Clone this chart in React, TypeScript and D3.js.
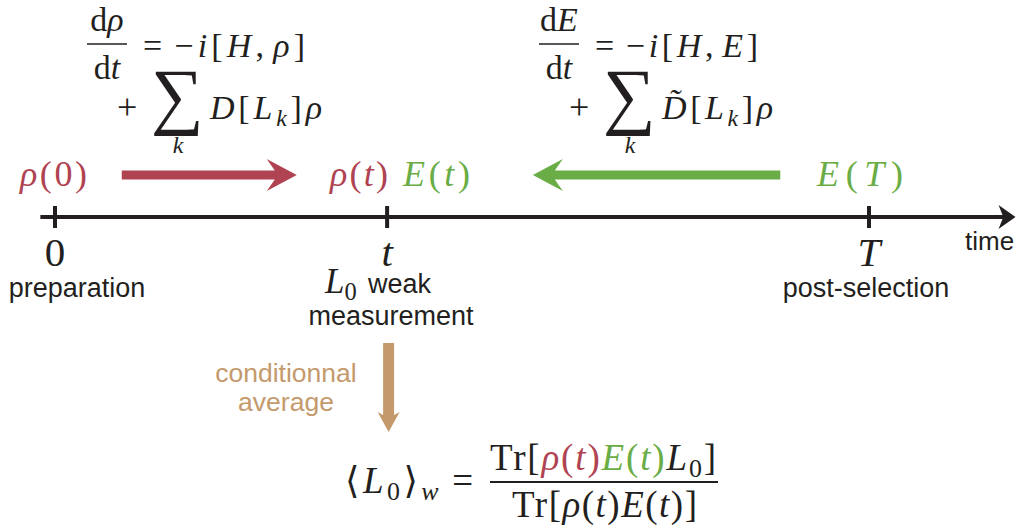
import React from "react";
import * as d3 from "d3";

const W = 1022;
const H = 529;

// timeline data
const tickLabels = ["0", "t", "T"];
const tickTimes = [0, 0.408, 1];
const tickItalic = [false, true, true];
const captions = ["preparation", "", "post-selection"];
const axisDomain = [-0.018, 1.18];
// evolution arrows (start time, end time)
const forwardArrow = [0.082, 0.297];
const backwardArrow = [0.891, 0.587];

const INK = "#231f20";
const RED = "#b04352";
const GREEN = "#6aad46";
const BROWN = "#c49a6c";
const SERIF = "'Liberation Serif', 'DejaVu Serif', serif";
const SANS = "'Liberation Sans', Arial, sans-serif";

type Seg = { t: string; i?: boolean; c?: string; sub?: boolean; dx?: number };

function MathText(props: {
  x: number;
  y: number;
  segs: Seg[];
  size: number;
  anchor?: string;
  len?: number;
}) {
  const { x, y, segs, size, anchor, len } = props;
  let inSub = false;
  const out = segs.map((s, k) => {
    let dy = 0;
    if (s.sub && !inSub) dy = size * 0.2;
    if (!s.sub && inSub) dy = -size * 0.2;
    inSub = !!s.sub;
    return (
      <tspan
        key={k}
        dy={dy || undefined}
        dx={s.dx}
        fontStyle={s.i ? "italic" : "normal"}
        fill={s.c || INK}
        fontSize={s.sub ? size * 0.7 : size}
      >
        {s.t}
      </tspan>
    );
  });
  return (
    <text
      x={x}
      y={y}
      fontFamily={SERIF}
      fontSize={size}
      textAnchor={anchor || "start"}
      textLength={len}
      lengthAdjust={len ? "spacing" : undefined}
    >
      {out}
    </text>
  );
}

function arrowPath(x0: number, x1: number, y: number, shaft: number, headLen: number, headHalf: number, notch: number) {
  const dir = Math.sign(x1 - x0);
  const p = d3.path();
  const back = x1 - dir * headLen;
  const join = back + dir * notch;
  p.moveTo(x0, y - shaft / 2);
  p.lineTo(join, y - shaft / 2);
  p.lineTo(back, y - headHalf);
  p.lineTo(x1, y);
  p.lineTo(back, y + headHalf);
  p.lineTo(join, y + shaft / 2);
  p.lineTo(x0, y + shaft / 2);
  p.closePath();
  return p.toString();
}

function vArrowPath(x: number, y0: number, y1: number, shaft: number, headLen: number, headHalf: number, notch: number) {
  const p = d3.path();
  const back = y1 - headLen;
  const join = back + notch;
  p.moveTo(x - shaft / 2, y0);
  p.lineTo(x - shaft / 2, join);
  p.lineTo(x - headHalf, back);
  p.lineTo(x, y1);
  p.lineTo(x + headHalf, back);
  p.lineTo(x + shaft / 2, join);
  p.lineTo(x + shaft / 2, y0);
  p.closePath();
  return p.toString();
}

export default function App() {
  const x = d3.scaleLinear().domain([0, 1]).range([55, 869]);
  const axisY = 217;
  const arrowY = 175;

  const [a0, a1] = axisDomain.map(x);

  const eq = (dx: number, num: Seg[], rhs: Seg[], rhsLen: number, tail: Seg[], tailLen: number, key: string) => (
    <g key={key} transform={`translate(${dx},0)`}>
      <MathText x={107} y={31} size={34} anchor="middle" segs={num} />
      <line x1={87} x2={127} y1={44} y2={44} stroke={INK} strokeWidth={1.7} />
      <MathText x={107} y={79} size={34} anchor="middle" segs={[{ t: "d" }, { t: "t", i: true }]} />
      <MathText x={143} y={57} size={34} segs={rhs} len={rhsLen} />
      <text x={117} y={119} fontFamily={SERIF} fontSize={36} fill={INK}>+</text>
      <text x={151} y={120} fontFamily={SERIF} fontSize={74} fill={INK}>∑</text>
      <MathText x={178} y={153} size={24} anchor="middle" segs={[{ t: "k", i: true }]} />
      <MathText x={210} y={119} size={34} segs={tail} len={tailLen} />
    </g>
  );

  return (
    <svg width={W} height={H} style={{ position: "absolute", left: 0, top: 0, background: "#fff" }}>
      {eq(
        0,
        [{ t: "d" }, { t: "ρ", i: true }],
        [{ t: "=" }, { t: "−", dx: 8 }, { t: "i", i: true }, { t: "[" }, { t: "H", i: true }, { t: "," }, { t: "ρ", i: true, dx: 5 }, { t: "]" }],
        162,
        [{ t: "D", i: true }, { t: "[" }, { t: "L", i: true }, { t: "k", i: true, sub: true }, { t: "]" }, { t: "ρ", i: true }],
        112,
        "l"
      )}
      {eq(
        452,
        [{ t: "d" }, { t: "E", i: true }],
        [{ t: "=" }, { t: "−", dx: 8 }, { t: "i", i: true }, { t: "[" }, { t: "H", i: true }, { t: "," }, { t: "E", i: true, dx: 5 }, { t: "]" }],
        163,
        [{ t: "D\u0303", i: true }, { t: "[" }, { t: "L", i: true }, { t: "k", i: true, sub: true }, { t: "]" }, { t: "ρ", i: true }],
        111,
        "r"
      )}

      {/* state labels */}
      <MathText x={20} y={186} size={36} len={67} segs={[{ t: "ρ", i: true, c: RED }, { t: "(0)", c: RED }]} />
      <MathText x={330} y={186} size={36} len={58} segs={[{ t: "ρ", i: true, c: RED }, { t: "(", c: RED }, { t: "t", i: true, c: RED }, { t: ")", c: RED }]} />
      <MathText x={403} y={186} size={36} len={67} segs={[{ t: "E", i: true, c: GREEN }, { t: "(", c: GREEN }, { t: "t", i: true, c: GREEN }, { t: ")", c: GREEN }]} />
      <MathText x={817} y={186} size={36} len={86} segs={[{ t: "E", i: true, c: GREEN }, { t: "(", c: GREEN }, { t: "T", i: true, c: GREEN }, { t: ")", c: GREEN }]} />

      {/* evolution arrows */}
      <path d={arrowPath(x(forwardArrow[0]), x(forwardArrow[1]), arrowY, 9, 30, 16, 8)} fill={RED} />
      <path d={arrowPath(x(backwardArrow[0]), x(backwardArrow[1]), arrowY, 9, 30, 16, 8)} fill={GREEN} />

      {/* time axis */}
      <path d={arrowPath(a0, a1, axisY, 4, 17, 12, 4)} fill={INK} />
      {tickTimes.map((tv, k) => (
        <g key={k}>
          <rect x={x(tv) - 2} y={axisY - 11} width={4} height={22} fill={INK} />
          <text
            x={x(tv)}
            y={266}
            fontFamily={SERIF}
            fontSize={41}
            fontStyle={tickItalic[k] ? "italic" : "normal"}
            textAnchor="middle"
            fill={INK}
          >
            {tickLabels[k]}
          </text>
          {captions[k] && (
            <text x={x(tv) + (k === 0 ? 22 : -3)} y={297} fontFamily={SANS} fontSize={27} textAnchor="middle" fill={INK}>
              {captions[k]}
            </text>
          )}
        </g>
      ))}
      <text x={965} y={250} fontFamily={SANS} fontSize={26} fill={INK}>time</text>

      {/* weak measurement caption */}
      <MathText x={325} y={293} size={35} segs={[{ t: "L", i: true }, { t: "0", sub: true }]} />
      <text x={368} y={293} fontFamily={SANS} fontSize={27} fill={INK}>weak</text>
      <text x={391} y={325} fontFamily={SANS} fontSize={27} textAnchor="middle" fill={INK}>measurement</text>

      {/* conditional average */}
      <path d={vArrowPath(x(tickTimes[1]) + 1.5, 343, 432, 11, 20, 11, 3)} fill={BROWN} />
      <text x={286} y={382} fontFamily={SANS} fontSize={26.5} textAnchor="middle" fill={BROWN}>conditionnal</text>
      <text x={286} y={411} fontFamily={SANS} fontSize={26.5} textAnchor="middle" fill={BROWN}>average</text>

      {/* weak value */}
      <MathText
        x={345}
        y={493}
        size={37}
        len={128}
        segs={[{ t: "⟨" }, { t: "L", i: true }, { t: "0", sub: true }, { t: "⟩" }, { t: "w", i: true, sub: true }, { t: "=", dx: 10 }]}
      />
      <MathText
        x={490}
        y={470}
        size={37}
        len={226}
        segs={[
          { t: "Tr[" },
          { t: "ρ", i: true, c: RED },
          { t: "(", c: RED },
          { t: "t", i: true, c: RED },
          { t: ")", c: RED },
          { t: "E", i: true, c: GREEN },
          { t: "(", c: GREEN },
          { t: "t", i: true, c: GREEN },
          { t: ")", c: GREEN },
          { t: "L", i: true },
          { t: "0", sub: true },
          { t: "]" },
        ]}
      />
      <line x1={490} x2={718} y1={482} y2={482} stroke={INK} strokeWidth={2} />
      <MathText
        x={512}
        y={517}
        size={37}
        len={185}
        segs={[
          { t: "Tr[" },
          { t: "ρ", i: true },
          { t: "(" },
          { t: "t", i: true },
          { t: ")" },
          { t: "E", i: true },
          { t: "(" },
          { t: "t", i: true },
          { t: ")]" },
        ]}
      />
    </svg>
  );
}
